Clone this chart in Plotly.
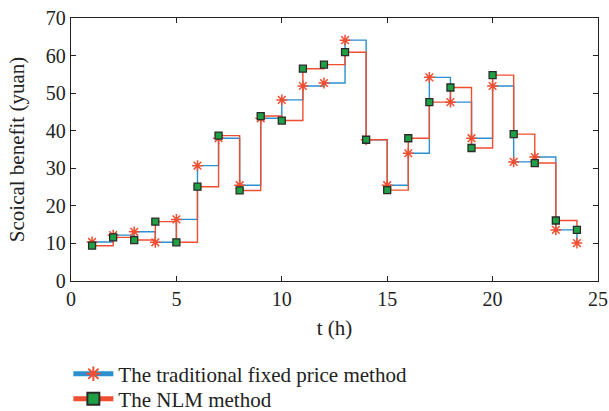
import plotly.graph_objects as go

hours = list(range(1, 25))
traditional = [10.4, 12.2, 13.1, 10.3, 16.4, 30.7, 38.0, 25.5, 43.3, 48.2, 51.9, 52.7,
               64.1, 37.6, 25.5, 34.0, 54.2, 47.6, 38.0, 51.9, 31.7, 33.0, 13.6, 10.1]
nlm = [9.4, 11.6, 10.9, 15.8, 10.3, 25.1, 38.7, 24.1, 43.9, 42.7, 56.5, 57.6,
       60.9, 37.6, 24.2, 38.0, 47.6, 51.5, 35.4, 54.8, 39.1, 31.4, 16.1, 13.6]

x_ticks = [0, 5, 10, 15, 20, 25]
y_ticks = [0, 10, 20, 30, 40, 50, 60, 70]

FONT = "Liberation Serif"
FS = 20

fig = go.Figure()
fig.add_trace(go.Scatter(
    x=hours, y=traditional, mode="lines+markers", line_shape="hv",
    name="The traditional fixed price method", legend="legend",
    line=dict(color="#2b8fd0", width=1.4),
    marker=dict(symbol="asterisk-open", size=9, color="#f04e30",
                line=dict(color="#f04e30", width=1.5)),
))
fig.add_trace(go.Scatter(
    x=hours, y=nlm, mode="lines+markers", line_shape="hv",
    name="The NLM method", legend="legend2",
    line=dict(color="#f04e30", width=1.4),
    marker=dict(symbol="square", size=7, color="#1fa044",
                line=dict(color="#2a2a2a", width=1.3)),
))

axis_common = dict(showline=True, linecolor="#222", linewidth=1.3, mirror="ticks",
                   ticks="inside", ticklen=5, tickcolor="#222", showgrid=False,
                   zeroline=False, automargin=False, ticklabeloverflow="allow",
                   tickfont=dict(family=FONT, size=FS, color="#222"))

leg_common = dict(x=-0.005, xanchor="left", yanchor="middle",
                  font=dict(family=FONT, size=21, color="#222"),
                  bgcolor="rgba(0,0,0,0)", itemsizing="constant", itemwidth=40)

fig.update_layout(
    width=609, height=411,
    margin=dict(l=71, r=11, t=18, b=130, autoexpand=False),
    paper_bgcolor="white", plot_bgcolor="white",
    font=dict(family=FONT, size=FS, color="#222"),
    xaxis=dict(range=[0, 25], tickvals=x_ticks,
               title=dict(text="t (h)", font=dict(family=FONT, size=21), standoff=11),
               **axis_common),
    yaxis=dict(range=[0, 70], tickvals=y_ticks,
               title=dict(text="Scoical benefit (yuan)", font=dict(family=FONT, size=21), standoff=15),
               **axis_common),
    showlegend=True,
    legend=dict(y=-0.354, **leg_common),
    legend2=dict(y=-0.449, **leg_common),
)

fig.write_html("out.html", config={"displayModeBar": False},
               post_script="document.body.style.margin='0';document.body.style.overflow='hidden';")
